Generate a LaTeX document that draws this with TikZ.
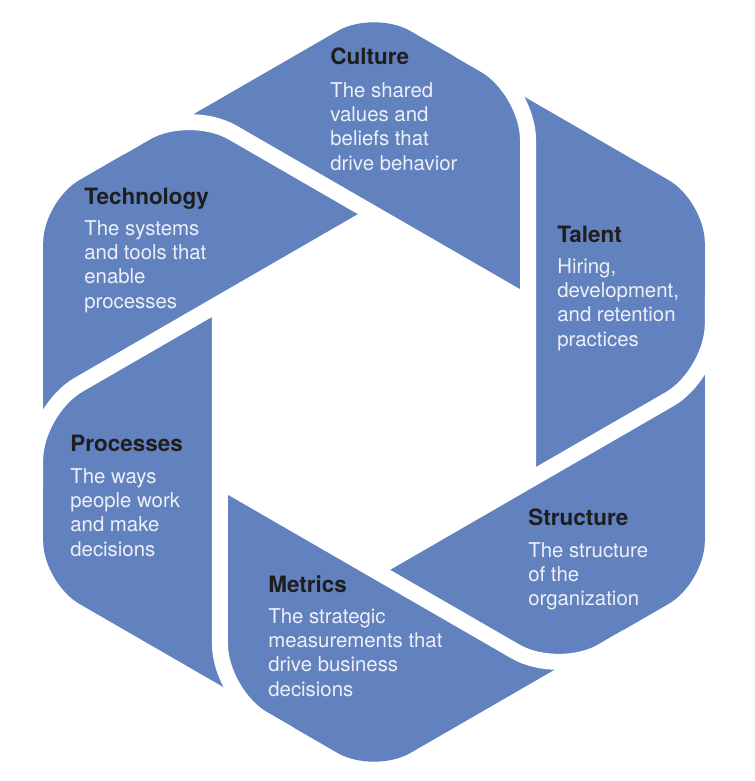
\documentclass[tikz,border=0pt]{standalone}
\usepackage{fontspec}
\setmainfont{TeX Gyre Heros}
\definecolor{hexblue}{HTML}{6281BF}
\definecolor{hexdark}{HTML}{1E1E1E}
\definecolor{hexlight}{HTML}{EDF0F7}

\begin{document}
\begin{tikzpicture}[
    x=0.02cm, y=0.02cm,
    blade/.style={fill=hexblue},
    gap/.style={draw=white, line width=0.32cm, line cap=butt, rounded corners=1.0cm},
    title/.style={anchor=base west, inner sep=0pt, text=hexdark,
      font=\bfseries\fontsize{12.8}{14}\selectfont},
    body/.style={anchor=base west, inner sep=0pt, align=left, text=hexlight,
      font=\fontsize{11.6}{13.9}\selectfont},
  ]
  \useasboundingbox (-374,-389) rectangle (380,392);

  % ----- outer hexagon (all six blades in one piece) -----
  \fill[blade, rounded corners=0.84cm]
    (90:382) -- (30:382) -- (-30:382) -- (-90:382) -- (-150:382) -- (150:382) -- cycle;

  % ----- open centre -----
  \fill[white] (30:177.8) \foreach \a in {90,150,...,330}{ -- (\a:177.8)} -- cycle;

  % ----- white gaps between the blades, one per blade edge -----
  \foreach \k in {0,...,5}{
    \draw[gap, rotate=-60*\k] (84.7,342.3) -- (154,302.3) -- (154,-88.9);
  }

  % ----- labels (body nodes sit on the baseline of their last line) -----
  \node[title] (culture) at (-44,327) {Culture};
  \node[body] (cultureText) at (-44,221.7) {The shared\\values and\\beliefs that\\drive behavior};

  \node[title] (talent) at (183,149) {Talent};
  \node[body] (talentText) at (183,45.7) {Hiring,\\development,\\and retention\\practices};

  \node[title] (structure) at (154,-133) {Structure};
  \node[body] (structureText) at (154,-213.9) {The structure\\of the\\organization};

  \node[title] (metrics) at (-106,-200) {Metrics};
  \node[body] (metricsText) at (-106,-304.3) {The strategic\\measurements that\\drive business\\decisions};

  \node[title] (processes) at (-304,-60) {Processes};
  \node[body] (processesText) at (-304,-164.3) {The ways\\people work\\and make\\decisions};

  \node[title] (technology) at (-290,187) {Technology};
  \node[body] (technologyText) at (-290,83.7) {The systems\\and tools that\\enable\\processes};

\end{tikzpicture}
\end{document}
